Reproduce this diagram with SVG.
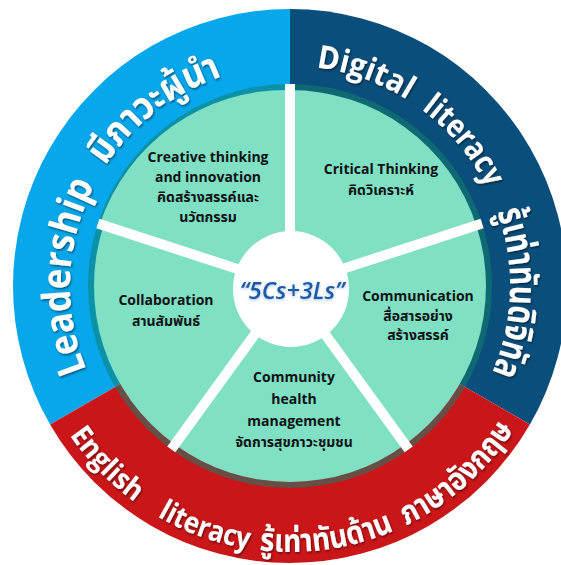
<svg xmlns="http://www.w3.org/2000/svg" width="561" height="565" viewBox="0 0 561 565">
<defs>
<style>
.rt{font-family:"Open Sans","Noto Sans","Noto Sans Thai","Tahoma",sans-serif;font-weight:700;fill:#ffffff;}
.lbl{font-family:"Open Sans","Noto Sans","Noto Sans Thai","Tahoma",sans-serif;font-weight:700;font-size:14px;fill:#111111;text-anchor:middle;}
.sector{fill:#7fe0c4;}
.spoke{stroke:#ffffff;stroke-width:10;}
</style>
<filter id="sh" x="-10%" y="-10%" width="120%" height="120%">
<feDropShadow dx="1" dy="1.5" stdDeviation="1.2" flood-color="#000" flood-opacity="0.5"/>
</filter>
<filter id="glow" x="-20%" y="-40%" width="140%" height="180%">
<feDropShadow dx="0" dy="1" stdDeviation="1.5" flood-color="#5a8fd0" flood-opacity="0.6"/>
</filter>
<path id="cw" d="M290,506 A220,220 0 1 1 290,66 A220,220 0 1 1 290,506"/>
<path id="ccw" d="M290,20 A266,266 0 1 0 290,552 A266,266 0 1 0 290,20"/>
</defs>

<g id="ring">
<g id="ring-leadership">
<path d="M290,286 L50.1,424.5 A277,277 0 0 1 290,9 Z" fill="#07a7ec"/>
</g>
<g id="ring-digital">
<path d="M290,286 L290,9 A277,277 0 0 1 529.9,424.5 Z" fill="#0a4f7b"/>
</g>
<g id="ring-english">
<path d="M290,286 L529.9,424.5 A277,277 0 0 1 50.1,424.5 Z" fill="#cb1619"/>
</g>
</g>

<g id="ring-labels" filter="url(#sh)">
<text class="rt" font-size="39"><textPath href="#cw" startOffset="259.2" textLength="191.6" lengthAdjust="spacingAndGlyphs">Leadership</textPath></text>
<text class="rt" font-size="38"><textPath href="#cw" startOffset="472.3" textLength="149.7" lengthAdjust="spacingAndGlyphs">มีภาวะผู้นำ</textPath></text>
<text class="rt" font-size="32"><textPath href="#cw" startOffset="717.3" textLength="96.8" lengthAdjust="spacingAndGlyphs">Digital</textPath></text>
<text class="rt" font-size="32"><textPath href="#cw" startOffset="831.7" textLength="102.9" lengthAdjust="spacingAndGlyphs">literacy</textPath></text>
<text class="rt" font-size="38"><textPath href="#cw" startOffset="960.7" textLength="164.7" lengthAdjust="spacingAndGlyphs">รู้เท่าทันดิจิทัล</textPath></text>
<text class="rt" font-size="29"><textPath href="#ccw" startOffset="575.7" textLength="93.8" lengthAdjust="spacingAndGlyphs">English</textPath></text>
<text class="rt" font-size="29"><textPath href="#ccw" startOffset="696.4" textLength="97.5" lengthAdjust="spacingAndGlyphs">literacy</textPath></text>
<text class="rt" font-size="32"><textPath href="#ccw" startOffset="804.6" textLength="137.9" lengthAdjust="spacingAndGlyphs">รู้เท่าทันด้าน</textPath></text>
<text class="rt" font-size="32"><textPath href="#ccw" startOffset="955.4" textLength="146.2" lengthAdjust="spacingAndGlyphs">ภาษาอังกฤษ</textPath></text>
</g>

<circle cx="290" cy="286" r="199" fill="none" stroke="#12806e" stroke-opacity="0.55" stroke-width="6"/>

<g id="node-creative">
<path class="sector" d="M290,286 L99.8,224.2 A196,196 0 0 1 290,90 Z"/>
<text class="lbl" x="208" y="162">Creative thinking</text>
<text class="lbl" x="208" y="182">and innovation</text>
<text class="lbl" x="208" y="202">คิดสร้างสรรค์และ</text>
<text class="lbl" x="208" y="222">นวัตกรรม</text>
</g>
<g id="node-critical">
<path class="sector" d="M290,286 L290,90 A196,196 0 0 1 476.4,225.4 Z"/>
<text class="lbl" x="381" y="174">Critical Thinking</text>
<text class="lbl" x="381" y="195">คิดวิเคราะห์</text>
</g>
<g id="node-communication">
<path class="sector" d="M290,286 L476.4,225.4 A196,196 0 0 1 405.2,444.6 Z"/>
<text class="lbl" x="418" y="301">Communication</text>
<text class="lbl" x="418" y="321">สื่อสารอย่าง</text>
<text class="lbl" x="418" y="340">สร้างสรรค์</text>
</g>
<g id="node-community">
<path class="sector" d="M290,286 L405.2,444.6 A196,196 0 0 1 174.8,444.6 Z"/>
<text class="lbl" x="294" y="382">Community</text>
<text class="lbl" x="294" y="404">health</text>
<text class="lbl" x="294" y="426">management</text>
<text class="lbl" x="294" y="447">จัดการสุขภาวะชุมชน</text>
</g>
<g id="node-collaboration">
<path class="sector" d="M290,286 L174.8,444.6 A196,196 0 0 1 103.6,225.4 Z"/>
<text class="lbl" x="166" y="305">Collaboration</text>
<text class="lbl" x="166" y="326">สานสัมพันธ์</text>
</g>

<g id="connectors">
<line class="spoke" x1="290" y1="286" x2="290" y2="84"/>
<line class="spoke" x1="290" y1="286" x2="482.1" y2="223.6"/>
<line class="spoke" x1="290" y1="286" x2="408.7" y2="449.4"/>
<line class="spoke" x1="290" y1="286" x2="171.3" y2="449.4"/>
<line class="spoke" x1="290" y1="286" x2="97.9" y2="223.6"/>
</g>

<g id="node-center">
<circle cx="291" cy="289" r="58" fill="#ffffff"/>
<text x="292" y="299" text-anchor="middle" filter="url(#glow)" style="font-family:'Open Sans','Noto Sans',sans-serif;font-style:italic;font-weight:600;font-size:23.5px;fill:#1e5aa8">“5Cs+3Ls”</text>
</g>
</svg>
